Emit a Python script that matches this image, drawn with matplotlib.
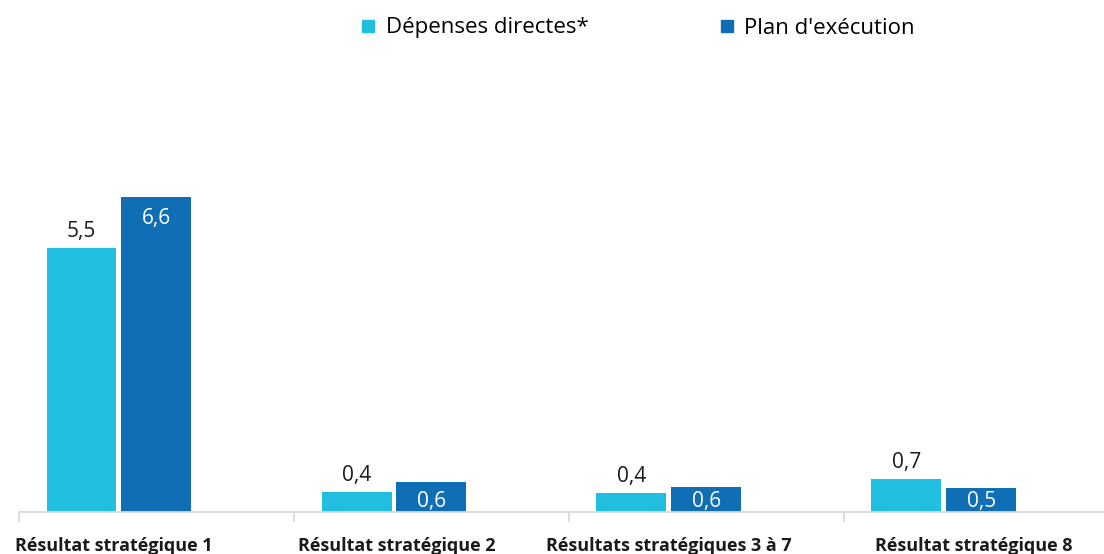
import matplotlib
matplotlib.use("Agg")
import numpy as np
from matplotlib import pyplot as plt
from matplotlib.lines import Line2D

# categories and series
categories = ["Résultat stratégique 1", "Résultat stratégique 2",
              "Résultats stratégiques 3 à 7", "Résultat stratégique 8"]
depenses = [5.5, 0.42, 0.40, 0.69]
plan = [6.56, 0.62, 0.52, 0.50]
depenses_labels = ["5,5", "0,4", "0,4", "0,7"]
plan_labels = ["6,6", "0,6", "0,6", "0,5"]
series_names = ["Dépenses directes*", "Plan d'exécution"]

LIGHT = "#22BEE0"
DARK = "#106EB4"
GRID = "#D9D9D9"

plt.rcParams["font.family"] = ["Open Sans", "DejaVu Sans"]

W, H = 1104, 554
fig = plt.figure(figsize=(W / 100, H / 100), dpi=100)
# plot area runs from x=19 px; each category is 275 px wide
ax_h = 384
ymax = 8
ax = fig.add_axes([19 / W, 42 / H, 1100 / W, ax_h / H])
px = ymax / ax_h  # data units per pixel

x = np.arange(len(categories))
step = 75 / 275
width = 70 / 275
b1 = ax.bar(x - step, depenses, width, color=LIGHT, label=series_names[0])
b2 = ax.bar(x, plan, width, color=DARK, label=series_names[1])

ax.set_xlim(-0.5, len(categories) - 0.5)
ax.set_ylim(0, ymax)

for rect, txt in zip(b1, depenses_labels):
    ax.annotate(txt, (rect.get_x() + rect.get_width() / 2, rect.get_height()),
                xytext=(0, 6), textcoords="offset pixels",
                ha="center", va="bottom", fontsize=15, color="#1a1a1a")
# inside-end labels, kept above the axis line for short bars
for rect, txt in zip(b2, plan_labels):
    y = max(rect.get_height() - 21 * px, 11 * px)
    ax.text(rect.get_x() + rect.get_width() / 2, y, txt,
            ha="center", va="center", fontsize=15, color="white")

for s in ["top", "right", "left"]:
    ax.spines[s].set_visible(False)
ax.spines["bottom"].set_color(GRID)
ax.spines["bottom"].set_linewidth(1.3)
ax.set_yticks([])

# category boundary ticks, labels under the two visible bars
ax.set_xticks(np.arange(-0.5, len(categories)), minor=True)
ax.tick_params(axis="x", which="minor", length=7, color=GRID, width=1.3)
label_shift = [-0.02, 0.01, 0.0, 0.11]
ax.set_xticks(x - step / 2 + np.array(label_shift))
ax.set_xticklabels(categories, fontsize=13, fontweight="bold", color="#1a1a1a")
ax.tick_params(axis="x", which="major", length=0, pad=18)

handles = [Line2D([], [], marker="s", linestyle="none", markersize=8,
                  color=c) for c in (LIGHT, DARK)]
fig.legend(handles, series_names, loc="center", bbox_to_anchor=(636 / W, 1 - 28 / H),
           ncol=2, frameon=False, fontsize=16, handletextpad=0.3,
           columnspacing=5.7, handlelength=1.0)

plt.savefig("out.png", dpi=100)
